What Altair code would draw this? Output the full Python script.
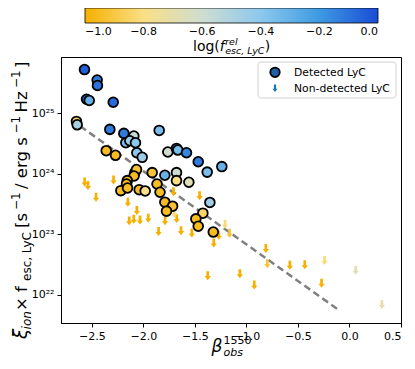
import altair as alt
import pandas as pd

FONT = "DejaVu Sans"

# ---------------- data ----------------
det_beta = [-2.572, -2.449, -2.446, -2.552, -2.526, -2.293, -2.650, -2.643, -2.326, -2.190,
            -2.093, -1.847, -2.171, -2.132, -2.077, -2.064, -2.012, -2.361, -2.271, -1.763,
            -1.679, -1.666, -1.582, -1.468, -1.381, -1.239, -1.915, -1.792, -1.679, -1.679,
            -1.559, -1.868, -1.839, -1.792, -1.717, -1.776, -1.355, -1.423, -1.491, -1.468,
            -1.322, -2.083, -2.067, -2.091, -2.157, -2.164, -2.219, -2.154, -2.041, -1.983]
det_xi = [5.32e25, 3.58e25, 2.90e25, 1.72e25, 1.64e25, 1.53e25, 7.38e24, 6.49e24, 5.45e24, 4.68e24,
          4.22e24, 5.24e24, 3.27e24, 3.53e24, 3.27e24, 2.24e24, 1.88e24, 2.42e24, 2.03e24, 2.30e24,
          2.64e24, 2.48e24, 2.24e24, 1.59e24, 1.07e24, 1.32e24, 1.05e24, 9.48e23, 1.05e24, 7.73e23,
          7.26e23, 6.81e23, 4.97e23, 3.40e23, 2.92e23, 2.42e23, 3.37e23, 2.24e23, 1.80e23, 1.36e23,
          1.09e23, 1.05e24, 1.18e24, 9.23e23, 7.73e23, 6.81e23, 5.28e23, 5.85e23, 5.48e23, 5.22e23]
det_logf = [-0.05, -0.12, -0.10, -0.05, -0.30, -0.08, -0.88, -0.48, -0.12, -0.12,
            -0.58, -0.35, -0.35, -0.45, -0.40, -0.40, -0.45, -0.95, -0.95, -0.60,
            -0.15, -0.35, -0.15, -0.12, -0.35, -0.30, -0.92, -0.30, -0.60, -0.80,
            -0.68, -0.95, -0.95, -0.95, -0.92, -0.95, -0.45, -0.85, -0.95, -0.95,
            -0.95, -0.95, -0.92, -0.95, -0.95, -0.95, -0.95, -0.95, -0.95, -0.80]

non_beta = [-2.570, -2.538, -2.460, -2.290, -2.151, -2.064, -2.138, -2.093, -2.033, -1.953,
            -1.853, -1.790, -1.708, -1.677, -1.635, -1.530, -1.455, -1.317, -1.376, -1.208,
            -1.268, -1.164, -1.064, -0.924, -0.812, -0.798, -0.579, -0.434, -0.242, -0.271,
            0.061, 0.315, -1.701]
non_xi = [7.35e23, 6.44e23, 4.11e23, 7.93e23, 3.40e23, 2.47e23, 1.67e23, 1.77e23, 1.73e23, 1.85e23,
          1.11e23, 1.68e23, 5.08e23, 1.82e23, 1.15e23, 1.05e23, 4.36e23, 7.16e22, 2.07e22, 1.47e23,
          9.64e22, 1.04e23, 2.23e22, 1.45e22, 5.83e22, 3.26e22, 3.08e22, 3.14e22, 3.70e22, 1.55e22,
          2.53e22, 6.87e21, 2.24e23]
non_logf = [-1.0, -1.0, -1.0, -1.0, -1.0, -1.0, -1.0, -1.0, -1.0, -1.0,
            -1.0, -1.0, -1.0, -1.0, -1.0, -1.0, -1.0, -1.0, -1.0, -0.82,
            -1.0, -0.92, -1.0, -1.0, -1.0, -0.92, -1.0, -1.0, -0.82, -1.0,
            -0.68, -0.70, -0.82]

fit_beta = [-2.70, -0.10]
fit_xi = [7.83e24, 5.53e21]

x_ticks = [-2.5, -2.0, -1.5, -1.0, -0.5, 0.0, 0.5]
y_ticks = [1e22, 1e23, 1e24, 1e25]
y_tick_labels = ["10²²", "10²³", "10²⁴", "10²⁵"]
cbar_ticks = [-1.0, -0.8, -0.6, -0.4, -0.2, 0.0]
cmap_colors = ["#F5B000", "#FADF85", "#CFDDD0", "#8CC8EE", "#3D9AE2", "#1A4BD5"]
legend_labels = ["Detected LyC", "Non-detected LyC"]

X_DOMAIN = [-2.8, 0.5]
Y_DOMAIN = [3.41e21, 8.59e25]
W, H = 340, 266

ARROW = "M-0.3,-1 L0.3,-1 L0.3,0.1 L0.7,0.1 L0,1 L-0.7,0.1 L-0.3,0.1 Z"

det = pd.DataFrame({"beta": det_beta, "xi": det_xi, "logf": det_logf})
non = pd.DataFrame({"beta": non_beta, "xi": non_xi, "logf": non_logf})
fit = pd.DataFrame({"beta": fit_beta, "xi": fit_xi})
one = pd.DataFrame({"k": [0]})

label_expr = " : ".join(
    f"datum.value == {v:.0e} ? '{l}'" for v, l in zip(y_ticks[:-1], y_tick_labels[:-1])
) + f" : '{y_tick_labels[-1]}'"

xs = alt.Scale(domain=X_DOMAIN, nice=False, zero=False)
ys = alt.Scale(type="log", domain=Y_DOMAIN, nice=False)
cs = alt.Scale(domain=cbar_ticks, range=cmap_colors, interpolate="rgb")

cbar_legend = alt.Legend(
    orient="none", legendX=24, legendY=-49, direction="horizontal", title=None,
    gradientLength=293, gradientThickness=15, values=cbar_ticks, format=".1f",
    labelFontSize=11, labelFont=FONT, labelColor="black", labelAlign="center",
    labelOffset=3, labelOverlap=False, gradientStrokeColor="black",
    gradientStrokeWidth=0.8, padding=0)

x_enc = alt.X("beta:Q", scale=xs, axis=alt.Axis(values=x_ticks, format=".1f", title=None,
                                                 grid=False, tickSize=4, labelPadding=3))
y_enc = alt.Y("xi:Q", scale=ys, axis=alt.Axis(values=y_ticks, labelExpr=label_expr, title=None,
                                               grid=False, tickSize=4, labelPadding=3))

line = alt.Chart(fit).mark_line(color="#808080", strokeWidth=2.5, strokeDash=[7, 4]).encode(
    x=alt.X("beta:Q", scale=xs), y=alt.Y("xi:Q", scale=ys))

arrows = alt.Chart(non).mark_point(shape=ARROW, filled=True, size=80, opacity=1,
                                   strokeWidth=0).encode(
    x=x_enc, y=y_enc, fill=alt.Fill("logf:Q", scale=cs, legend=cbar_legend))

circles = alt.Chart(det).mark_point(shape="circle", filled=True, size=95, stroke="black",
                                    strokeWidth=1.8, opacity=1).encode(
    x=alt.X("beta:Q", scale=xs), y=alt.Y("xi:Q", scale=ys),
    fill=alt.Fill("logf:Q", scale=cs, legend=cbar_legend))


def txt(s, x, y, size, angle=0, dx=0, dy=0, style="normal"):
    return alt.Chart(one).mark_text(text=s, font=FONT, fontSize=size, fontStyle=style,
                                    angle=angle, dx=dx, dy=dy, align="left",
                                    baseline="alphabetic", color="black").encode(
        x=alt.value(x), y=alt.value(y))


texts = []
# colorbar title: log(f^rel_esc,LyC)
texts += [txt("log(", 132, -6.3, 14), txt("f", 158.8, -6.3, 14, style="italic"),
          txt("rel", 164.2, -11.8, 9.5, style="italic"),
          txt("esc, LyC", 164.2, -3.3, 9.5, style="italic"),
          txt(")", 203.8, -6.3, 14)]
# x title: beta^1550_obs
texts += [txt("β", 150.6, 295, 17, style="italic"),
          txt("1550", 162.5, 287, 11),
          txt("obs", 162.5, 299, 11, style="italic")]
# y title, rotated
ypieces = [("ξ", 18.5, 0, 0, "italic"), ("ion", 12, 9.6, 4, "italic"),
           (" × f", 16.5, 27.9, 0, "normal"), ("esc, LyC", 12, 58.0, 4, "normal"),
           (" [s", 16.5, 111.0, 0, "normal"), ("−1", 12, 129.0, -7, "normal"),
           (" / erg s", 16.5, 150.0, 0, "normal"), ("−1", 12, 205.5, -7, "normal"),
           (" Hz", 16.5, 226.5, 0, "normal"), ("−1", 12, 251.0, -7, "normal"),
           ("]", 16.5, 271.0, 0, "normal")]
for s, size, dx, dy, st in ypieces:
    texts.append(txt(s, -34, 282, size, angle=270, dx=dx, dy=dy, style=st))

# legend box
box = alt.Chart(one).mark_rect(fill="white", stroke="#cccccc", strokeWidth=1, cornerRadius=3,
                               opacity=0.9).encode(
    x=alt.value(197), x2=alt.value(335), y=alt.value(5), y2=alt.value(41))
leg_c = alt.Chart(one).mark_point(shape="circle", filled=True, size=90, fill="#1f5fa8",
                                  stroke="black", strokeWidth=1.8, opacity=1).encode(
    x=alt.value(214), y=alt.value(15.3))
leg_a = alt.Chart(one).mark_point(shape=ARROW, filled=True, size=55, fill="#1f77b4",
                                  strokeWidth=0, opacity=1).encode(
    x=alt.value(214), y=alt.value(31.3))
leg_t = [txt(legend_labels[0], 233, 19.3, 10.8), txt(legend_labels[1], 233, 35.3, 10.8)]

chart = alt.layer(line, arrows, circles, box, leg_c, leg_a, *leg_t, *texts).properties(
    width=W, height=H,
    autosize=alt.AutoSizeParams(type="none"),
    padding={"left": 53, "top": 49, "right": 5, "bottom": 38},
).configure_view(stroke="black", strokeWidth=1).configure_axis(
    labelFont=FONT, labelFontSize=11, labelColor="black", tickColor="black",
    domainColor="black", domainWidth=1, tickWidth=1
)

chart.save("out.html", embed_options={"renderer": "svg", "actions": False})
